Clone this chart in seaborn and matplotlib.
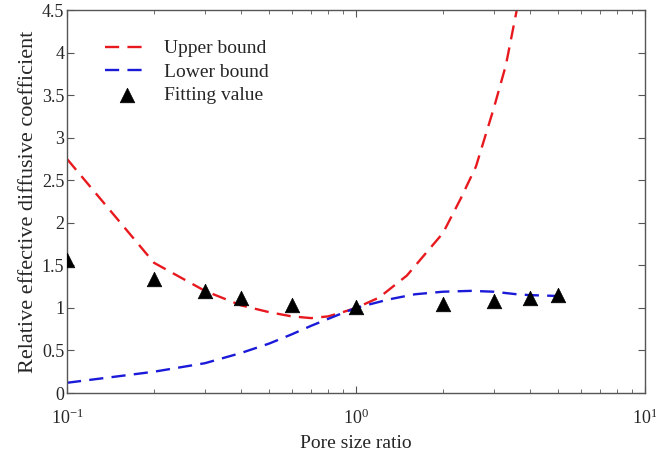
import numpy as np
import pandas as pd
import matplotlib
matplotlib.use("Agg")
import matplotlib.pyplot as plt
import seaborn as sns

# values
upper_x = [0.1, 0.2, 0.3, 0.4, 0.5, 0.6, 0.7, 0.8, 0.9, 1.0, 1.2, 1.5, 2.0, 2.3, 2.6, 3.0, 3.3, 3.6, 3.8]
upper_y = [2.75, 1.53, 1.20, 1.03, 0.95, 0.90, 0.88, 0.90, 0.95, 1.00, 1.12, 1.38, 1.88, 2.28, 2.66, 3.35, 3.85, 4.50, 4.9]

lower_x = [0.1, 0.2, 0.3, 0.4, 0.5, 0.6, 0.7, 0.8, 0.9, 1.0, 1.3, 1.6, 2.0, 2.5, 3.0, 3.6, 4.0, 5.0]
lower_y = [0.12, 0.25, 0.35, 0.47, 0.58, 0.69, 0.79, 0.87, 0.94, 1.00, 1.10, 1.16, 1.19, 1.20, 1.19, 1.16, 1.15, 1.14]

fit_x = [0.1, 0.2, 0.3, 0.4, 0.6, 1.0, 2.0, 3.0, 4.0, 5.0]
fit_y = [1.56, 1.34, 1.20, 1.12, 1.03, 1.01, 1.05, 1.08, 1.12, 1.15]

sns.set_style("ticks")
plt.rcParams["font.family"] = ["Liberation Serif", "DejaVu Serif"]
plt.rcParams["mathtext.fontset"] = "stix"

upper = pd.DataFrame({"x": upper_x, "y": upper_y})
lower = pd.DataFrame({"x": lower_x, "y": lower_y})
fit = pd.DataFrame({"x": fit_x, "y": fit_y})

fig, ax = plt.subplots(figsize=(6.56, 4.55), dpi=100)
fig.subplots_adjust(left=67/656, right=645/656, top=1-10/455, bottom=1-393/455)

sns.lineplot(data=upper, x="x", y="y", ax=ax, color="#e8191e", lw=1.7,
             dashes=False, label="Upper bound", sort=False)
sns.lineplot(data=lower, x="x", y="y", ax=ax, color="#1a1ad8", lw=1.7,
             dashes=False, label="Lower bound", sort=False)
for ln in ax.lines:
    ln.set_dashes((6, 3.5))
sns.scatterplot(data=fit, x="x", y="y", ax=ax, marker="^", color="black",
                s=110, edgecolor="black", linewidth=0.5, label="Fitting value", zorder=5)

ax.set_xscale("log")
ax.set_xlim(0.1, 10)
ax.set_ylim(0, 4.5)
ax.set_yticks(np.arange(0, 4.51, 0.5))
ax.set_yticklabels(["0", "0.5", "1", "1.5", "2", "2.5", "3", "3.5", "4", "4.5"])

ax.tick_params(which="both", direction="in", top=True, right=True, labelsize=13,
               color="#555555")
ax.tick_params(axis="x", pad=11)
ax.tick_params(axis="y", pad=2)
ax.tick_params(which="major", length=5)
ax.tick_params(which="minor", length=3)
for sp in ax.spines.values():
    sp.set_color("#555555")
    sp.set_linewidth(1.0)

ax.set_xlabel("Pore size ratio", fontsize=14, labelpad=5)
ax.set_ylabel("Relative effective diffusive coefficient", fontsize=16, labelpad=3)

leg = ax.legend(loc="upper left", bbox_to_anchor=(0.036, 0.968), frameon=False,
                fontsize=14, handlelength=2.2, handletextpad=0.8, labelspacing=0.3)

fig.savefig("out.png", dpi=100)
